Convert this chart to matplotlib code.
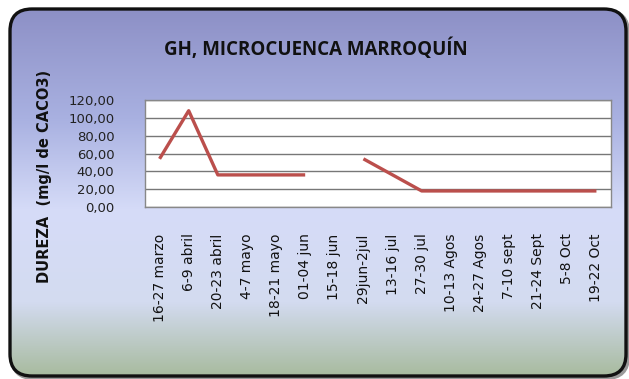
import numpy as np
import matplotlib
matplotlib.use("Agg")
from matplotlib import pyplot as plt
from matplotlib.patches import FancyBboxPatch
from matplotlib.colors import LinearSegmentedColormap

# sampling periods and hardness values (mg/l CaCO3)
periods = ["16-27 marzo", "6-9 abril", "20-23 abril", "4-7 mayo", "18-21 mayo",
           "01-04 jun", "15-18 jun", "29jun-2jul", "13-16 jul", "27-30 jul",
           "10-13 Agos", "24-27 Agos", "7-10 sept", "21-24 Sept", "5-8 Oct",
           "19-22 Oct"]
dureza = [54, 108, 36, 36, 36, 36, np.nan, 54, 36, 18, 18, 18, 18, 18, 18, 18]
yticks = [0, 20, 40, 60, 80, 100, 120]

fig = plt.figure(figsize=(6.29, 3.79), dpi=100)
W, H = 629, 379

# background panel: rounded box with vertical gradient
bg = fig.add_axes([0, 0, 1, 1])
bg.set_xlim(0, W)
bg.set_ylim(H, 0)
bg.axis("off")
cmap = LinearSegmentedColormap.from_list(
    "panel", [(0.0, "#8d90c6"), (0.3, "#a9b1e1"), (0.55, "#d6dcf8"),
              (0.8, "#d3dbf0"), (1.0, "#a8bb9f")])
grad = np.linspace(0, 1, 256).reshape(-1, 1)
x0, y0, x1, y1 = 10, 9, 626, 376
img = bg.imshow(grad, cmap=cmap, aspect="auto", extent=(x0, x1, y1, y0), zorder=1)
# soft shadow under the box
shadow = FancyBboxPatch((x0 + 2, y0 + 2), x1 - x0, y1 - y0,
                        boxstyle="round,pad=0,rounding_size=22",
                        fc="none", ec="#9a9a9a", lw=3, zorder=0)
bg.add_patch(shadow)
box = FancyBboxPatch((x0, y0), x1 - x0, y1 - y0,
                     boxstyle="round,pad=0,rounding_size=22",
                     fc="none", ec="#111111", lw=2.4, zorder=3)
bg.add_patch(box)
img.set_clip_path(box)

fig.text(316 / W, 1 - 49 / H, "GH, MICROCUENCA MARROQUÍN", ha="center",
         va="center", fontsize=13.5, fontweight="bold", color="#111111",
         family="Open Sans")
fig.text(45 / W, 1 - 176 / H, "DUREZA  (mg/l de CACO3)", rotation=90,
         ha="center", va="center", fontsize=10.5, fontweight="bold",
         color="#111111")

ax = fig.add_axes([145 / W, 1 - 207 / H, (611 - 145) / W, (207 - 100) / H])
ax.set_facecolor("white")
x = np.arange(len(periods))
ax.plot(x, dureza, color="#bb4f4c", lw=2.4, solid_capstyle="butt", zorder=3)
ax.set_xlim(-0.5, len(periods) - 0.5)
ax.set_ylim(0, 120)
ax.set_yticks(yticks)
ax.set_yticklabels(["{:.2f}".format(v).replace(".", ",") for v in yticks],
                   fontsize=9.5, color="#222222")
ax.yaxis.grid(True, color="#777777", lw=1)
ax.set_axisbelow(True)
ax.set_xticks(x)
ax.set_xticklabels(periods, rotation=90, fontsize=10, color="#111111")
ax.tick_params(axis="x", length=0, pad=19)
ax.tick_params(axis="y", length=0, pad=22)
for s in ax.spines.values():
    s.set_color("#888888")
    s.set_linewidth(1)

fig.savefig("out.png", dpi=100)
